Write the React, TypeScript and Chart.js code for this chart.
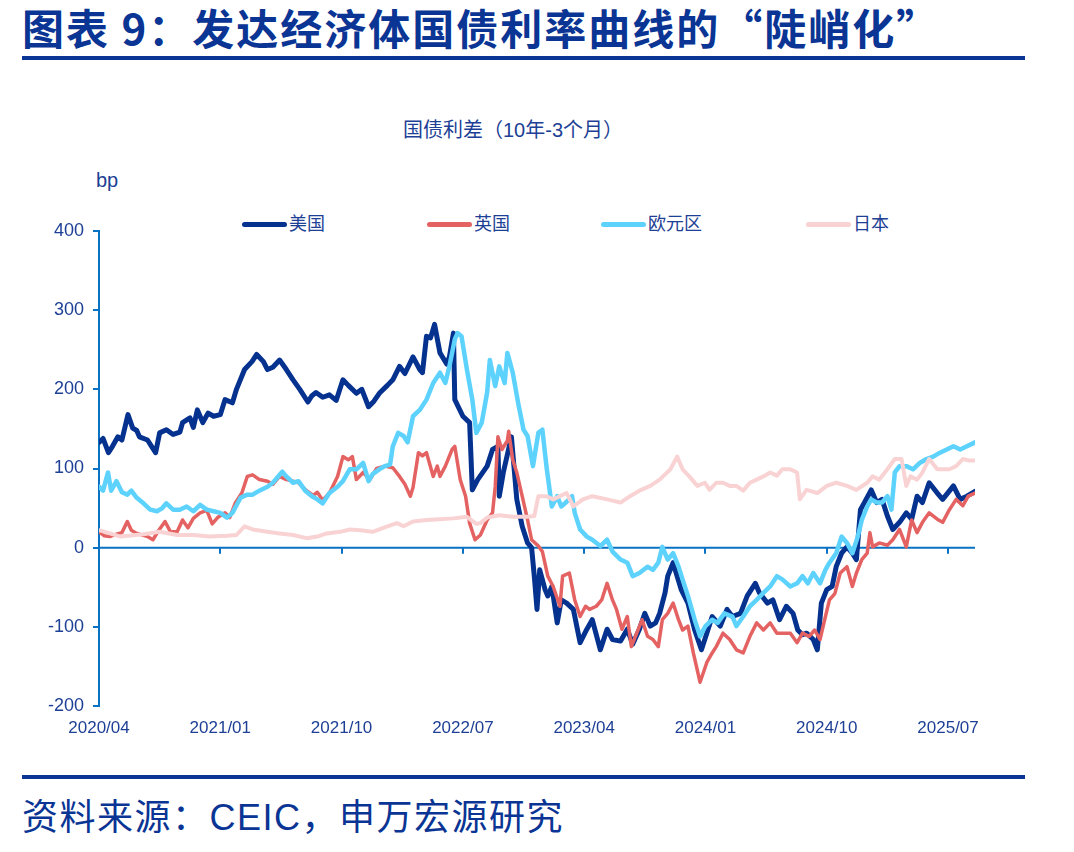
import React, { useEffect, useRef } from "react";
import { Chart, registerables } from "chart.js";

Chart.register(...registerables);

// Month offsets are counted from 2020/04 (0 = 2020/04).
const xTickMonths = [0, 9, 18, 27, 36, 45, 54, 63];
const xTickLabels = ["2020/04", "2021/01", "2021/10", "2022/07", "2023/04", "2024/01", "2024/10", "2025/07"];
const yTicks = [-200, -100, 0, 100, 200, 300, 400];

const seriesNames = ["美国", "英国", "欧元区", "日本"];
const seriesColors = ["#06328f", "#e46262", "#5dd2fd", "#f9d3d3"];
const seriesWidths = [5, 3.5, 4.5, 4];

// 10Y - 3M spread, bp: [month offset, value]
const usSpread: number[][] = [
  [0, 133], [0.3, 138], [0.7, 120], [1.0, 128], [1.4, 140], [1.7, 136], [2.15, 168], [2.5, 151], [2.8, 148],
  [3.0, 140], [3.6, 136], [3.9, 128], [4.2, 120], [4.5, 145], [5.0, 149], [5.5, 143], [6.0, 146], [6.2, 158],
  [6.75, 164], [7.0, 152], [7.3, 174], [7.7, 158], [8.1, 170], [8.5, 166], [9.0, 168], [9.35, 187], [9.9, 183],
  [10.2, 200], [10.8, 225], [11.35, 235], [11.7, 244], [12.2, 235], [12.5, 225], [12.9, 228], [13.4, 237],
  [13.9, 225], [14.4, 212], [14.9, 200], [15.5, 184], [15.8, 192], [16.1, 196], [16.6, 190], [17.1, 193],
  [17.6, 186], [18.1, 212], [18.5, 205], [19.1, 195], [19.5, 200], [20.0, 178], [20.4, 185], [20.8, 195],
  [21.4, 205], [21.8, 212], [22.3, 229], [22.7, 220], [23.3, 241], [23.8, 225], [24.0, 221], [24.3, 267],
  [24.6, 265], [24.9, 282], [25.3, 246], [25.8, 232], [26.0, 241], [26.3, 271], [26.4, 187], [27.0, 166],
  [27.5, 158], [27.7, 73], [28.1, 86], [28.8, 103], [29.2, 124], [29.6, 128], [29.7, 65], [30.0, 95],
  [30.6, 140], [31.0, 61], [31.4, 27], [31.8, 6], [32.1, 0], [32.3, -36], [32.5, -78], [32.7, -28], [33.1, -53],
  [33.3, -61], [33.6, -49], [34.0, -95], [34.3, -66], [34.7, -70], [35.2, -78], [35.7, -120], [36.2, -103],
  [36.6, -91], [37.2, -129], [37.7, -103], [38.1, -116], [38.7, -118], [39.2, -103], [39.6, -122], [40.1, -103],
  [40.5, -83], [40.9, -99], [41.3, -95], [41.6, -83], [42.0, -57], [42.2, -36], [42.6, -19], [42.9, -36],
  [43.2, -53], [43.7, -70], [44.2, -104], [44.7, -129], [45.1, -108], [45.5, -87], [46.1, -99], [46.6, -78],
  [47.0, -87], [47.6, -83], [48.1, -61], [48.7, -45], [49.0, -57], [49.6, -70], [50.0, -66], [50.5, -91],
  [51.0, -74], [51.5, -83], [51.85, -104], [52.2, -110], [52.5, -108], [53.0, -116], [53.3, -129], [53.6, -70],
  [54.0, -53], [54.4, -49], [54.7, -24], [55.1, -7], [55.5, 1], [55.9, -7], [56.2, -15], [56.5, 48], [56.8, 57],
  [57.3, 73], [57.7, 57], [58.1, 61], [58.5, 40], [58.9, 23], [59.4, 32], [59.9, 44], [60.3, 36], [60.7, 65],
  [61.1, 57], [61.6, 82], [62.2, 69], [62.6, 61], [63.4, 78], [63.9, 61], [64.4, 65], [65, 71],
];

const ukSpread: number[][] = [
  [0, 20], [0.4, 15], [0.8, 14], [1.3, 17], [1.7, 19], [2.1, 33], [2.4, 22], [2.8, 18], [3.6, 14], [4.0, 10],
  [4.4, 21], [4.9, 33], [5.3, 20], [5.8, 20], [6.2, 35], [6.6, 25], [7.0, 37], [7.5, 44], [8.0, 47], [8.4, 30],
  [8.8, 38], [9.35, 44], [9.7, 38], [10.1, 56], [10.6, 69], [11.0, 90], [11.4, 92], [11.9, 86], [12.5, 84],
  [12.9, 80], [13.4, 90], [13.9, 86], [14.4, 84], [14.8, 82], [15.4, 72], [15.9, 66], [16.2, 70], [16.6, 60],
  [17.1, 69], [17.7, 90], [18.1, 115], [18.5, 111], [18.8, 115], [19.1, 86], [19.6, 95], [20.1, 86], [20.6, 100],
  [21.2, 103], [21.8, 101], [22.3, 90], [22.7, 80], [23.1, 65], [23.3, 76], [23.7, 120], [24.0, 116], [24.3, 120],
  [24.8, 90], [25.1, 103], [25.3, 90], [25.7, 103], [26.2, 124], [26.4, 128], [26.8, 86], [27.2, 65], [27.5, 31],
  [27.9, 10], [28.3, 16], [28.8, 35], [29.2, 44], [29.4, 77], [29.6, 140], [29.9, 124], [30.3, 135], [30.4, 147],
  [30.7, 111], [31.0, 95], [31.4, 65], [31.8, 35], [32.1, 10], [32.6, 2], [32.9, -5], [33.3, -36], [33.7, -49],
  [34.2, -74], [34.4, -36], [34.9, -32], [35.3, -66], [35.7, -87], [36.1, -74], [36.4, -78], [36.9, -74],
  [37.3, -66], [37.7, -45], [38.1, -66], [38.4, -78], [38.8, -103], [39.2, -87], [39.5, -125], [39.9, -108],
  [40.3, -91], [40.7, -112], [41.1, -116], [41.5, -125], [41.8, -91], [42.2, -83], [42.6, -70], [43.0, -91],
  [43.3, -104], [43.7, -99], [44.1, -133], [44.6, -170], [45.1, -145], [45.5, -133], [45.8, -125], [46.3, -108],
  [46.8, -116], [47.3, -129], [47.8, -133], [48.3, -112], [48.8, -95], [49.3, -104], [49.8, -95], [50.3, -108],
  [50.7, -108], [51.3, -108], [51.8, -120], [52.2, -108], [52.7, -112], [53.1, -104], [53.5, -116], [53.9, -87],
  [54.2, -66], [54.6, -58], [55.0, -32], [55.5, -24], [55.9, -49], [56.2, -32], [56.6, -15], [57.0, -7],
  [57.2, 19], [57.4, 1], [57.9, 6], [58.5, 3], [58.9, 10], [59.4, 23], [59.9, 1], [60.3, 35], [60.7, 19],
  [61.1, 32], [61.6, 44], [62.2, 36], [62.6, 32], [63.1, 48], [63.6, 61], [64.1, 53], [64.5, 65], [65, 69],
];

const euroSpread: number[][] = [
  [0, 77], [0.3, 72], [0.67, 95], [0.9, 72], [1.3, 84], [1.7, 70], [2.1, 67], [2.4, 72], [2.8, 63], [3.3, 56],
  [3.8, 48], [4.3, 46], [4.7, 50], [5.0, 56], [5.5, 48], [6.0, 48], [6.5, 52], [7.0, 46], [7.5, 54], [8.0, 48],
  [8.5, 46], [9.0, 44], [9.5, 38], [9.9, 44], [10.5, 63], [11.0, 67], [11.4, 67], [11.9, 72], [12.5, 77],
  [12.9, 82], [13.6, 96], [13.9, 90], [14.4, 82], [14.8, 84], [15.3, 72], [15.8, 65], [16.2, 61], [16.6, 56],
  [17.1, 69], [17.7, 77], [18.1, 84], [18.6, 99], [19.1, 99], [19.6, 107], [20.0, 84], [20.3, 93], [20.8, 99],
  [21.2, 103], [21.6, 105], [21.8, 128], [22.2, 145], [22.6, 141], [22.9, 133], [23.3, 166], [23.8, 174],
  [24.3, 187], [24.8, 208], [25.3, 221], [25.7, 208], [26.0, 229], [26.4, 263], [26.6, 271], [26.9, 267],
  [27.3, 225], [27.7, 187], [28.0, 145], [28.4, 158], [28.8, 196], [29.0, 237], [29.4, 204], [29.7, 229],
  [30.1, 208], [30.3, 246], [30.7, 221], [31.1, 183], [31.5, 149], [31.8, 141], [32.2, 103], [32.6, 145],
  [32.9, 149], [33.2, 103], [33.6, 52], [34.0, 65], [34.3, 52], [34.7, 58], [35.1, 65], [35.3, 44], [35.7, 23],
  [36.2, 14], [36.6, 10], [37.2, 2], [37.7, 10], [38.1, -5], [38.7, -15], [39.2, -19], [39.6, -36], [40.1, -32],
  [40.7, -24], [41.1, -28], [41.5, -19], [41.8, 1], [42.2, -15], [42.6, -7], [43.0, -24], [43.3, -40],
  [43.7, -61], [44.2, -91], [44.6, -112], [45.0, -99], [45.5, -91], [45.9, -95], [46.4, -83], [47.0, -87],
  [47.3, -99], [47.8, -87], [48.3, -74], [48.8, -66], [49.3, -57], [49.8, -49], [50.3, -36], [50.7, -40],
  [51.3, -49], [51.8, -45], [52.2, -36], [52.6, -45], [53.0, -32], [53.5, -45], [53.9, -28], [54.2, -19],
  [54.7, -7], [55.1, 14], [55.5, 6], [55.9, -7], [56.3, 14], [56.6, 35], [57.0, 52], [57.3, 61], [57.7, 57],
  [58.1, 57], [58.5, 65], [58.8, 48], [59.05, 95], [59.4, 103], [59.9, 103], [60.4, 99], [60.9, 107],
  [61.4, 112], [61.9, 115], [62.4, 120], [62.9, 124], [63.4, 128], [63.9, 124], [64.4, 128], [65, 133],
];

const japanSpread: number[][] = [
  [0, 22], [0.8, 18], [1.6, 14], [3.3, 17], [4.5, 20], [5.8, 16], [7.0, 16], [8.2, 14], [9.5, 15], [10.2, 16],
  [10.8, 27], [11.4, 23], [12.5, 20], [13.4, 18], [14.4, 16], [15.4, 12], [16.2, 14], [16.9, 18], [17.9, 20],
  [18.6, 23], [19.4, 22], [20.3, 20], [21.4, 27], [22.1, 31], [22.6, 27], [23.3, 33], [24.3, 35], [25.3, 36],
  [26.3, 37], [27.3, 39], [28.0, 30], [28.3, 31], [28.8, 38], [29.7, 41], [30.7, 39], [31.8, 39], [32.3, 40],
  [32.6, 65], [33.2, 65], [33.7, 61], [34.7, 69], [35.2, 52], [35.9, 61], [36.6, 65], [37.7, 61], [38.7, 57],
  [39.4, 65], [40.1, 72], [40.9, 78], [41.6, 86], [42.4, 99], [42.9, 115], [43.3, 99], [43.8, 90], [44.4, 78],
  [44.96, 82], [45.3, 73], [45.8, 82], [46.3, 82], [46.8, 78], [47.3, 78], [47.8, 72], [48.3, 82], [48.8, 86],
  [49.3, 90], [49.8, 95], [50.3, 91], [50.7, 99], [51.3, 99], [51.8, 95], [52.0, 61], [52.5, 73], [53.3, 69],
  [54.0, 78], [54.7, 82], [55.5, 78], [56.2, 73], [57.0, 82], [57.4, 90], [57.9, 86], [58.5, 99], [59.05, 112],
  [59.55, 112], [59.9, 78], [60.2, 90], [60.7, 86], [61.1, 95], [61.6, 112], [62.2, 99], [62.6, 99], [63.1, 99],
  [63.6, 103], [64.1, 112], [64.6, 110], [65, 110],
];

const seriesData = [usSpread, ukSpread, euroSpread, japanSpread];

const TEXT_BLUE = "#1d3f95";
const HEAD_BLUE = "#0a3594";
const AXIS_BLUE = "#0a72c2";
const FONT = '"Liberation Sans", Arial, "Noto Sans CJK SC", sans-serif';
const CJK_FONT = '"Liberation Sans", "Noto Sans CJK SC", sans-serif';
const TITLE_FONT = '"Noto Sans CJK SC", "Liberation Sans", sans-serif';

// Draws the horizontal zero line with downward tick marks at each date tick.
const zeroAxisPlugin = {
  id: "zeroAxis",
  beforeDatasetsDraw(chart: any) {
    const { ctx, chartArea, scales } = chart;
    const y0 = scales.y.getPixelForValue(0);
    ctx.save();
    ctx.strokeStyle = AXIS_BLUE;
    ctx.lineWidth = 2;
    ctx.beginPath();
    ctx.moveTo(chartArea.left, y0);
    ctx.lineTo(chartArea.right, y0);
    for (const t of scales.x.ticks) {
      const px = Math.round(scales.x.getPixelForValue(t.value));
      ctx.moveTo(px, y0);
      ctx.lineTo(px, y0 + 6);
    }
    ctx.stroke();
    ctx.restore();
  },
};

function SpreadChart() {
  const ref = useRef<HTMLCanvasElement | null>(null);
  useEffect(() => {
    if (!ref.current) return;
    const chart = new Chart(ref.current, {
      type: "line",
      data: {
        datasets: seriesNames.map((name, i) => ({
          label: name,
          data: seriesData[i].map(([m, v]) => ({ x: m, y: v })),
          borderColor: seriesColors[i],
          backgroundColor: seriesColors[i],
          borderWidth: seriesWidths[i],
          pointRadius: 0,
          tension: 0,
          borderJoinStyle: "round" as const,
          borderCapStyle: "round" as const,
          order: seriesNames.length - i,
        })),
      },
      options: {
        animation: false,
        responsive: false,
        maintainAspectRatio: false,
        layout: { padding: { left: 0, right: 99, top: 31, bottom: 0 } },
        plugins: { legend: { display: false }, title: { display: false }, tooltip: { enabled: false } },
        scales: {
          x: {
            type: "linear",
            min: 0,
            max: 65,
            grid: { display: false, drawTicks: false },
            border: { display: false },
            ticks: {
              color: TEXT_BLUE,
              font: { family: FONT, size: 17 },
              padding: 12,
              maxRotation: 0,
              autoSkip: false,
              callback: (v: any) => {
                const idx = xTickMonths.indexOf(Number(v));
                return idx >= 0 ? xTickLabels[idx] : "";
              },
            },
            afterBuildTicks: (scale: any) => {
              scale.ticks = xTickMonths.map((v) => ({ value: v }));
            },
            afterFit: (scale: any) => {
              scale.height = 54;
            },
          },
          y: {
            min: -200,
            max: 400,
            grid: {
              display: true,
              drawOnChartArea: false,
              drawTicks: true,
              tickLength: 6,
              color: AXIS_BLUE,
              lineWidth: 2,
            },
            border: { display: true, color: AXIS_BLUE, width: 2 },
            ticks: {
              color: TEXT_BLUE,
              font: { family: FONT, size: 18 },
              padding: 9,
            },
            afterBuildTicks: (scale: any) => {
              scale.ticks = yTicks.map((v) => ({ value: v }));
            },
            afterFit: (scale: any) => {
              scale.width = 99;
            },
          },
        },
      },
      plugins: [zeroAxisPlugin],
    });
    return () => chart.destroy();
  }, []);
  return (
    <canvas
      ref={ref}
      width={1074}
      height={560}
      style={{ position: "absolute", left: 0, top: 200, width: 1074, height: 560 }}
    />
  );
}

const legendLeft = [242, 427, 601, 806];

export default function App() {
  return (
    <div
      style={{
        position: "fixed",
        left: 0,
        top: 0,
        width: 1074,
        height: 852,
        background: "#ffffff",
        overflow: "hidden",
        fontFamily: CJK_FONT,
      }}
    >
      <div
        style={{
          position: "absolute",
          left: 22,
          top: 0,
          fontFamily: TITLE_FONT,
          fontSize: 42,
          lineHeight: "54px",
          fontWeight: 700,
          color: HEAD_BLUE,
          letterSpacing: 2,
          whiteSpace: "nowrap",
        }}
      >
        图表 9：发达经济体国债利率曲线的“陡峭化”
      </div>
      <div style={{ position: "absolute", left: 22, top: 56, width: 1003, height: 4, background: HEAD_BLUE }} />

      <div
        style={{
          position: "absolute",
          left: 403,
          top: 117,
          fontSize: 20,
          lineHeight: "26px",
          color: TEXT_BLUE,
          whiteSpace: "nowrap",
        }}
      >
        国债利差（10年-3个月）
      </div>
      <div
        style={{
          position: "absolute",
          left: 96,
          top: 167,
          fontSize: 20,
          lineHeight: "26px",
          color: TEXT_BLUE,
        }}
      >
        bp
      </div>

      {seriesNames.map((name, i) => (
        <div
          key={name}
          style={{
            position: "absolute",
            left: legendLeft[i],
            top: 213,
            height: 22,
            display: "flex",
            alignItems: "center",
            whiteSpace: "nowrap",
          }}
        >
          <span
            style={{
              display: "inline-block",
              width: 45,
              height: 5,
              borderRadius: 3,
              background: seriesColors[i],
              marginRight: 2,
            }}
          />
          <span style={{ fontSize: 18, lineHeight: "22px", color: TEXT_BLUE }}>{name}</span>
        </div>
      ))}

      <SpreadChart />

      <div style={{ position: "absolute", left: 22, top: 775, width: 1003, height: 4, background: HEAD_BLUE }} />
      <div
        style={{
          position: "absolute",
          left: 22,
          top: 794,
          fontSize: 36,
          lineHeight: "48px",
          color: HEAD_BLUE,
          letterSpacing: 1.5,
          whiteSpace: "nowrap",
        }}
      >
        资料来源：CEIC，申万宏源研究
      </div>
    </div>
  );
}
